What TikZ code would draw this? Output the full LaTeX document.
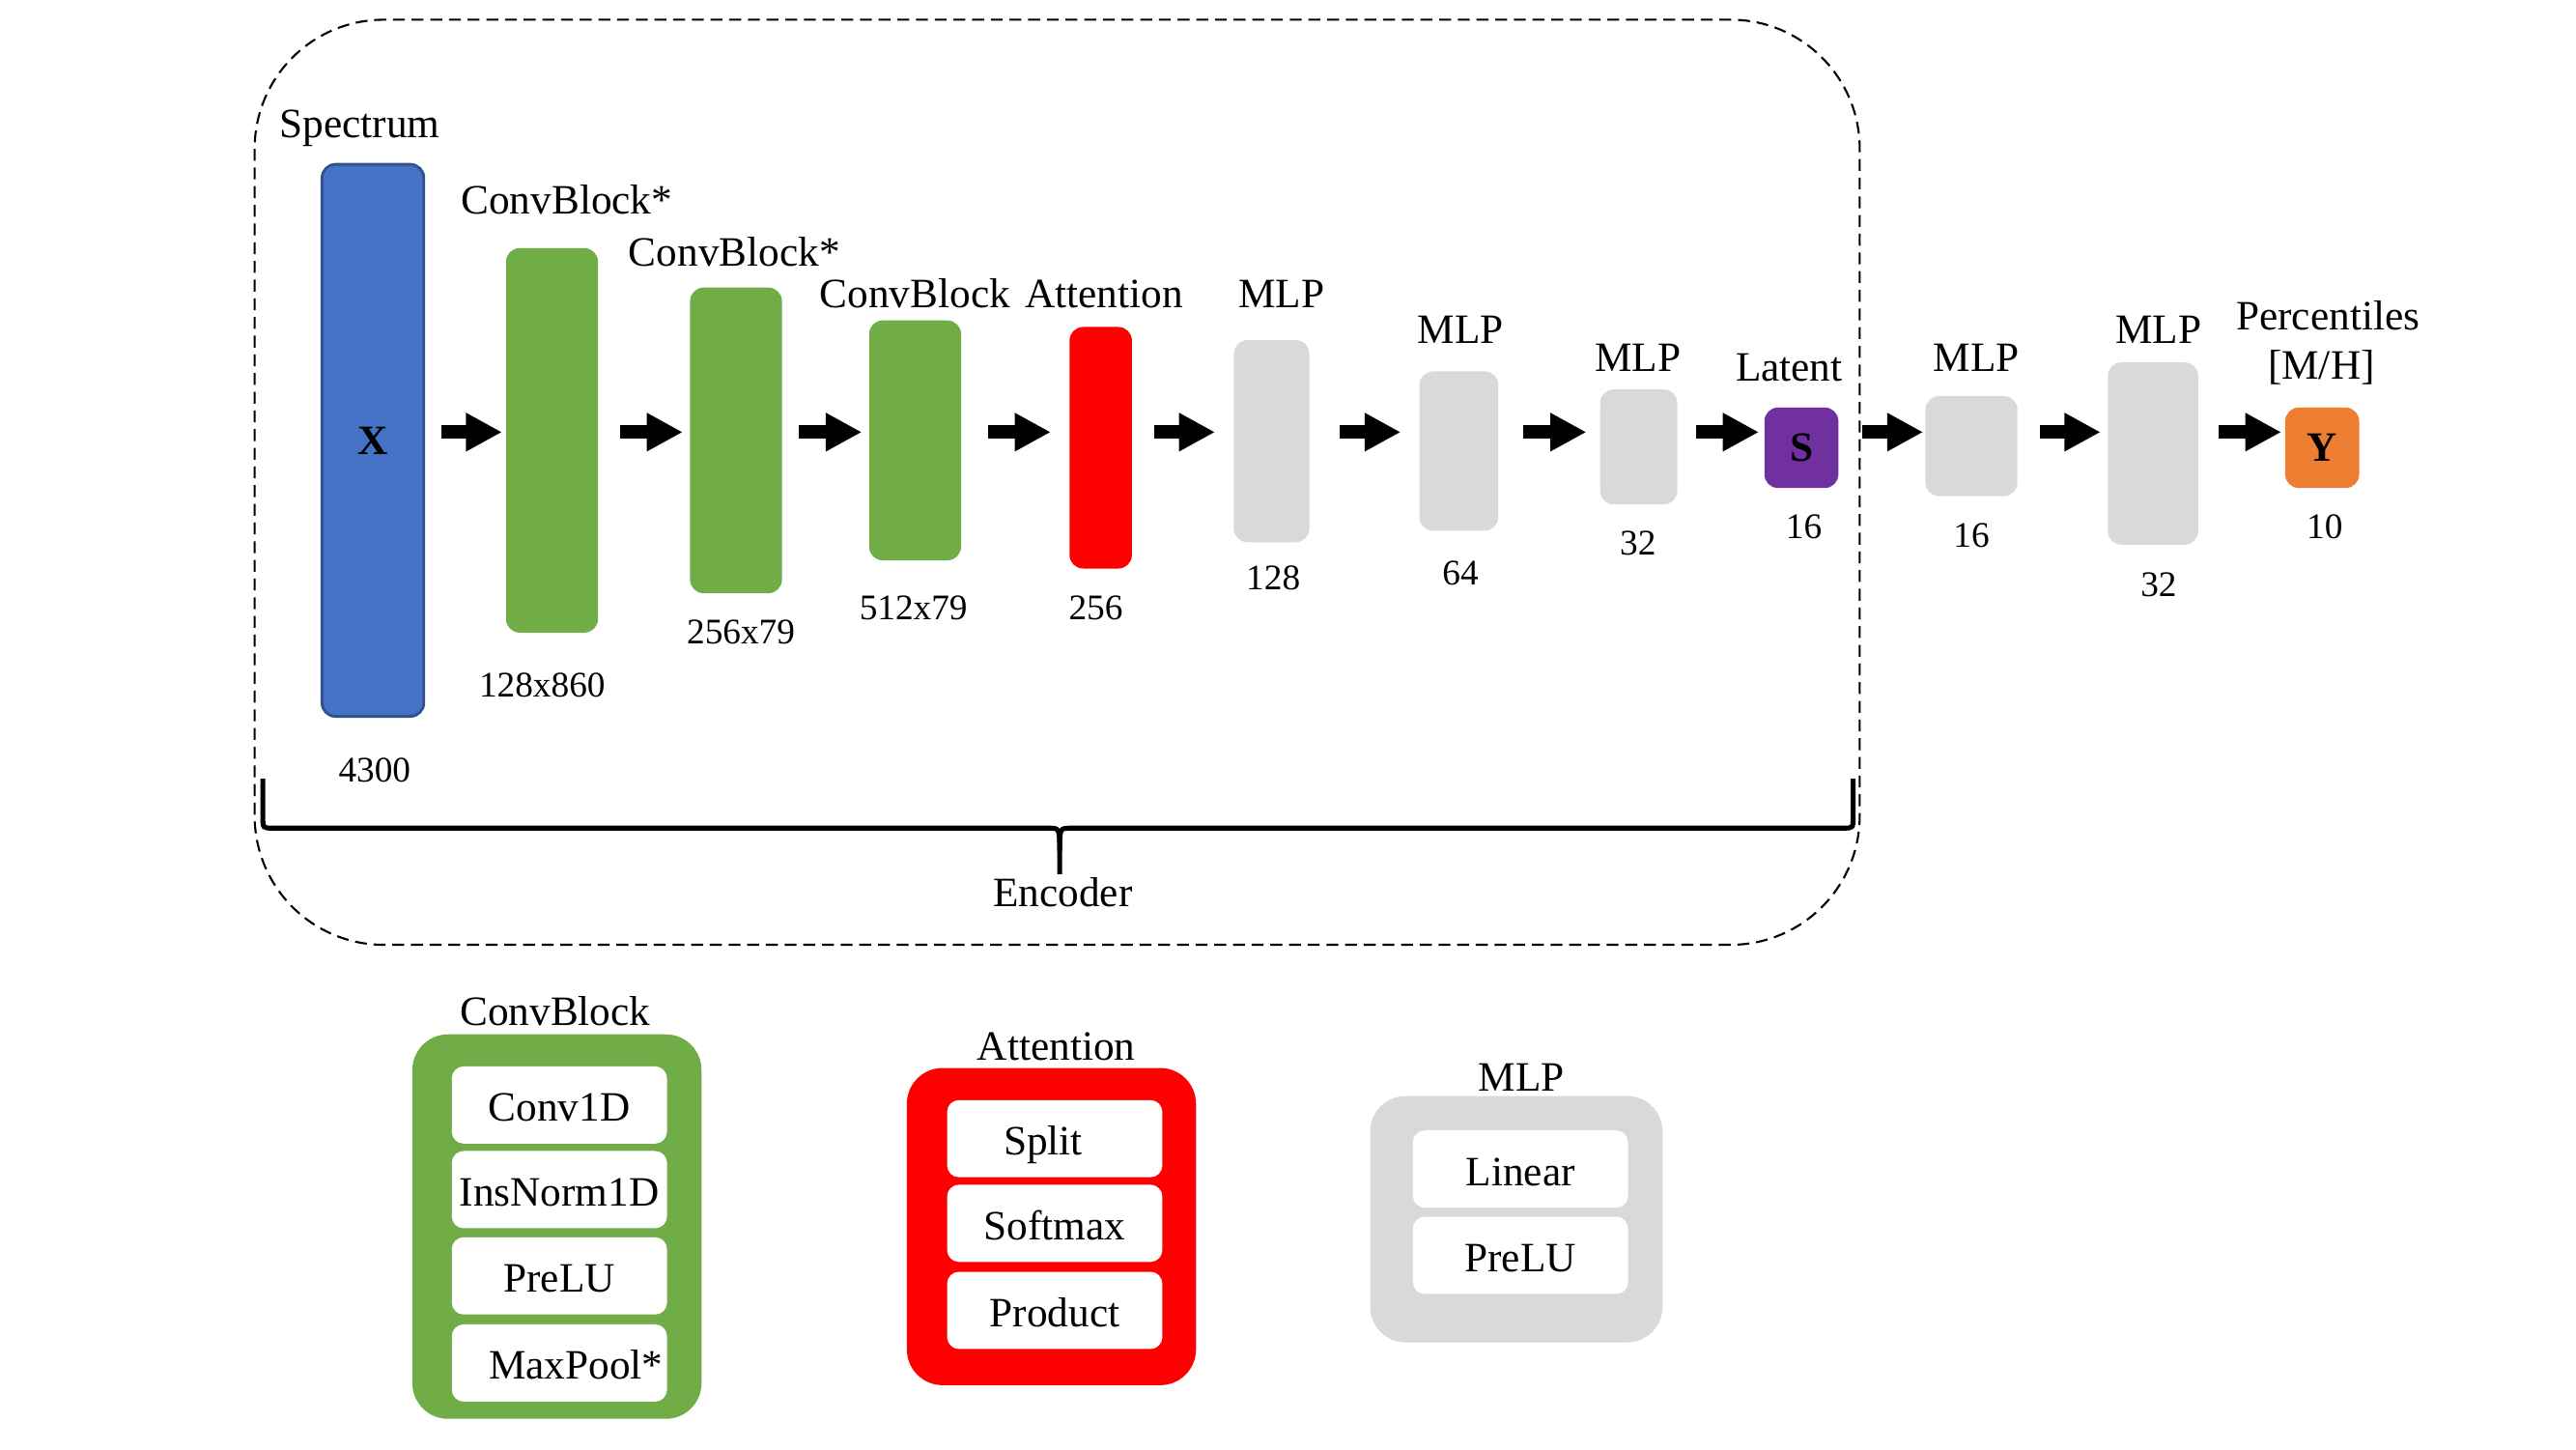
\documentclass[tikz,border=0pt]{standalone}
\usepackage{fontspec}
\setmainfont{Liberation Serif}
\usetikzlibrary{arrows.meta}
\newcommand{\px}{0.017cm}
\definecolor{inblue}{HTML}{4472C4}
\definecolor{inblueline}{HTML}{2F528F}
\definecolor{convgreen}{HTML}{70AD47}
\definecolor{attred}{HTML}{FF0000}
\definecolor{mlpgray}{HTML}{D9D9D9}
\definecolor{latpurple}{HTML}{7030A0}
\definecolor{outorange}{HTML}{ED7D31}
\begin{document}
\begin{tikzpicture}
[x=\px,y=-\px,
  blockDecorate/.style 2 args={shape=rectangle,rounded corners=4pt,inner sep=0pt,
    minimum width=#1*\px,minimum height=#2*\px},%
  letterDecorate/.style={font=\bfseries\fontsize{12.3}{14}\selectfont},%
  textDecorate/.style={anchor=base,inner sep=0pt,font=\fontsize{12.3}{14}\selectfont},%
  numDecorate/.style={anchor=base,inner sep=0pt,font=\fontsize{10.6}{12}\selectfont},%
  arrowDecorate/.style={-{Triangle[length=10.6pt,width=10.6pt]},line width=3.9pt},%
  legendDecorate/.style 2 args={shape=rectangle,rounded corners=10.5pt,inner sep=0pt,
    minimum width=#1*\px,minimum height=#2*\px},%
  itemDecorate/.style={shape=rectangle,rounded corners=3.5pt,fill=white,inner sep=0pt,
    text height=9.8pt,text depth=0.2pt,
    minimum width=131*\px,minimum height=47*\px,font=\fontsize{12.3}{14}\selectfont},%
  frameDecorate/.style={dash pattern=on 3.5pt off 2pt,line width=0.6pt,rounded corners=38pt},%
  braceDecorate/.style={line width=1.45pt}]
\useasboundingbox (0,0) rectangle (1568,882);
%% encoder frame
\draw[frameDecorate] (155,12) rectangle (1132,575);
%% blocks of the network
\node (x) at (227,268) [blockDecorate={62}{336},fill=inblue,draw=inblueline,line width=0.8pt,letterDecorate] {X};
\foreach \nodename/\x/\y/\w/\h/\col in {
  cbA/336/268/56/234/convgreen, cbB/448/268/56/186/convgreen,
  cbC/557/268/56/146/convgreen, att/670/272.5/38/147/attred,
  mlpA/774/268.5/46/123/mlpgray, mlpB/888/274.5/48/97/mlpgray,
  mlpC/997.5/272/47/70/mlpgray, mlpD/1200/271.5/56/61/mlpgray,
  mlpE/1310.5/276/55/111/mlpgray}
{
  \node (\nodename) at (\x,\y) [blockDecorate={\w}{\h},fill=\col] {};
}
\node (lat) at (1096.5,272.5) [blockDecorate={45}{49},fill=latpurple,letterDecorate] {S};
\node (out) at (1413.5,272.5) [blockDecorate={45}{49},fill=outorange,letterDecorate] {Y};
%% arrows between blocks
\coordinate (arrowline) at (0,263);
\foreach \startnode/\endnode/\startgap/\endgap in {
  x/cbA/10/2, cbA/cbB/13/4, cbB/cbC/10/4, cbC/att/16/11, att/mlpA/13/11,
  mlpA/mlpB/18/11, mlpB/mlpC/15/8, mlpC/lat/11/3, lat/mlpD/14/1,
  mlpD/mlpE/13/4, mlpE/out/12/2}
{
  \draw[arrowDecorate,shorten <=\startgap*\px,shorten >=\endgap*\px]
    (\startnode.east |- arrowline) -- (\endnode.west |- arrowline);
}
%% names and sizes
\foreach \nodename/\x/\y/\txt in {
  specT/219/84/Spectrum, cbAT/345/130/ConvBlock*, cbBT/447/162/ConvBlock*,
  cbCT/557/187/ConvBlock, attT/672/187/Attention, mlpAT/780/187/MLP,
  mlpBT/889/209/MLP, mlpCT/997/226/MLP, latT/1089/232/Latent,
  mlpDT/1203/226/MLP, mlpET/1314/209/MLP, outT/1417/201/Percentiles,
  outTT/1413/231/{[M/H]}, encT/647/552/Encoder,
  convLT/338/624/ConvBlock, attLT/643/645/Attention, mlpLT/926/664/MLP}
{
  \node (\nodename) at (\x,\y) [textDecorate] {\txt};
}
\foreach \nodename/\x/\y/\txt in {
  xN/228/476/4300, cbAN/330/424/128x860, cbBN/451/392/256x79,
  cbCN/556/377/512x79, attN/667/377/256, mlpAN/775/359/128,
  mlpBN/889/356/64, mlpCN/997/338/32, latN/1098/328/16,
  mlpDN/1200/333/16, mlpEN/1314/363/32, outN/1415/328/10}
{
  \node (\nodename) at (\x,\y) [numDecorate] {\txt};
}
%% brace under the encoder
\draw[braceDecorate] (160,474) -- (160,497) .. controls (160,504) .. (166,504)
  -- (638,504) .. controls (645,504) .. (645,518) -- (645,532);
\draw[braceDecorate] (645,518) .. controls (645,504) .. (652,504)
  -- (1122,504) .. controls (1128,504) .. (1128,497) -- (1128,474);
%% legend
\node (convLeg) at (339,746.5) [legendDecorate={176}{234},fill=convgreen] {};
\node (attLeg) at (640,746.5) [legendDecorate={176}{193},fill=attred] {};
\node (mlpLeg) at (923,742) [legendDecorate={178}{150},fill=mlpgray] {};
\foreach \nodename/\x/\y/\txt in {
  conv/340.5/672.5/Conv1D, norm/340.5/724/InsNorm1D, preA/340.5/776.5/PreLU,
  pool/340.5/829.5/{\kern0.34cm MaxPool*}, split/642/693/{Split\kern0.24cm},
  soft/642/744.5/Softmax, prod/642/797.5/Product, lin/925.5/711.5/Linear,
  preB/925.5/764/PreLU}
{
  \node (\nodename) at (\x,\y) [itemDecorate] {\txt};
}
\end{tikzpicture}
\end{document}
